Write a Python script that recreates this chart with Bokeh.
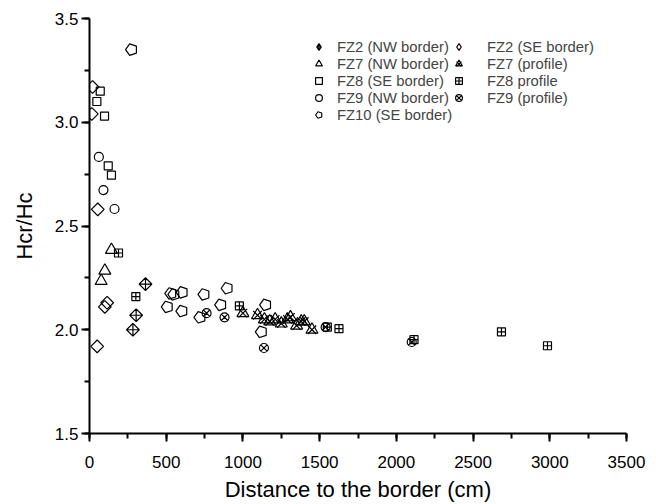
import numpy as np
from bokeh.plotting import figure
from bokeh.models import FixedTicker, Legend, LegendItem, NumeralTickFormatter
from bokeh.embed import file_html
from bokeh.resources import INLINE

# ---- data (distance in cm, Hcr/Hc) ----
fz2_nw_x = [283, 304, 365]
fz2_nw_y = [2.00, 2.07, 2.22]

fz2_se_x = [20, 15, 54, 115, 100, 50]
fz2_se_y = [3.17, 3.04, 2.58, 2.13, 2.11, 1.92]

fz7_nw_x = [143, 100, 76]
fz7_nw_y = [2.385, 2.285, 2.235]

fz7_pr_x = [1000, 1095, 1140, 1175, 1210, 1250, 1290, 1310, 1350, 1380, 1400, 1450]
fz7_pr_y = [2.08, 2.07, 2.05, 2.04, 2.05, 2.03, 2.05, 2.06, 2.02, 2.04, 2.04, 2.00]

fz8_se_x = [70, 48, 98, 122, 143]
fz8_se_y = [3.15, 3.10, 3.03, 2.79, 2.745]

fz8_pr_x = [189, 302, 977, 1550, 1626, 2115, 2685, 2985]
fz8_pr_y = [2.37, 2.16, 2.115, 2.013, 2.005, 1.952, 1.99, 1.923]

fz9_nw_x = [61, 91, 163]
fz9_nw_y = [2.833, 2.673, 2.582]

fz9_pr_x = [763, 880, 1137, 1539, 2100]
fz9_pr_y = [2.08, 2.06, 1.912, 2.013, 1.941]

fz10_se_x = [274, 507, 530, 550, 604, 602, 720, 746, 855, 897, 1148, 1120]
fz10_se_y = [3.35, 2.11, 2.175, 2.17, 2.18, 2.09, 2.06, 2.17, 2.12, 2.20, 2.12, 1.99]

x_ticks = [0, 500, 1000, 1500, 2000, 2500, 3000, 3500]
x_minor = [0, 250, 500, 750, 1000, 1250, 1500, 1750, 2000, 2250, 2500, 2750, 3000, 3250, 3500]
y_ticks = [1.5, 2.0, 2.5, 3.0, 3.5]
y_minor = [1.5, 1.75, 2.0, 2.25, 2.5, 2.75, 3.0, 3.25, 3.5]

FONT = "Liberation Sans"

p = figure(width=656, height=504, x_range=(0, 3500), y_range=(1.5, 3.5),
           output_backend="svg", toolbar_location=None,
           min_border_left=89, min_border_right=30, min_border_top=18, min_border_bottom=70,
           background_fill_color="white", border_fill_color="white")
p.outline_line_color = None
p.xgrid.visible = False
p.ygrid.visible = False

p.xaxis.ticker = FixedTicker(ticks=x_ticks, minor_ticks=x_minor)
p.yaxis.ticker = FixedTicker(ticks=y_ticks, minor_ticks=y_minor)
p.yaxis.formatter = NumeralTickFormatter(format="0.0")
p.xaxis.axis_label = "Distance to the border (cm)"
p.yaxis.axis_label = "Hcr/Hc"

for ax in (p.xaxis[0], p.yaxis[0]):
    ax.axis_line_width = 2
    ax.axis_line_color = "black"
    ax.major_tick_line_width = 2
    ax.minor_tick_line_width = 2
    ax.major_tick_line_color = "black"
    ax.minor_tick_line_color = "black"
    ax.major_tick_out = 8
    ax.major_tick_in = 0
    ax.minor_tick_out = 5
    ax.minor_tick_in = 0
    ax.major_label_text_font = FONT
    ax.major_label_text_font_size = "17px"
    ax.major_label_text_color = "black"
    ax.axis_label_text_font = FONT
    ax.axis_label_text_font_size = "22px"
    ax.axis_label_text_font_style = "normal"
    ax.axis_label_text_color = "black"

p.xaxis.major_label_standoff = 14
p.xaxis.axis_label_standoff = 6
p.yaxis.major_label_standoff = 3
p.yaxis.axis_label_standoff = 15

common = dict(fill_color=None, line_color="black", line_width=1.2)

r_fz2_nw = p.scatter(fz2_nw_x, fz2_nw_y, marker="square_x", size=9, angle=np.pi / 4, **common)
r_fz2_se = p.scatter(fz2_se_x, fz2_se_y, marker="square", size=9, angle=np.pi / 4, **common)
r_fz7_nw = p.scatter(fz7_nw_x, fz7_nw_y, marker="triangle", size=12, **common)
r_fz7_pt = p.scatter(fz7_pr_x, fz7_pr_y, marker="triangle", size=12, **common)
r_fz7_px = p.scatter(fz7_pr_x, fz7_pr_y, marker="x", size=12, **common)
r_fz8_se = p.scatter(fz8_se_x, fz8_se_y, marker="square", size=8, **common)
r_fz8_pr = p.scatter(fz8_pr_x, fz8_pr_y, marker="square_cross", size=8, **common)
r_fz9_nw = p.scatter(fz9_nw_x, fz9_nw_y, marker="circle", size=9, **common)
r_fz9_pr = p.scatter(fz9_pr_x, fz9_pr_y, marker="circle_x", size=9, **common)
r_fz10 = p.ngon(x=fz10_se_x, y=fz10_se_y, radius=6, radius_units="screen", n=5,
                angle=np.pi / 2, **common)

# legend-only glyphs (not drawn in the plot) so the legend shows diamonds
l_fz2_nw = p.scatter(x=[np.nan], y=[np.nan], marker="diamond_cross", size=9, **common)
l_fz2_se = p.scatter(x=[np.nan], y=[np.nan], marker="diamond", size=9, **common)

leg_style = dict(border_line_color=None, background_fill_alpha=0, padding=0, margin=0,
                 spacing=0, glyph_width=17, glyph_height=17, label_height=17,
                 label_text_font=FONT, label_text_font_size="14.8px")

leg1 = Legend(items=[
    LegendItem(label="FZ2 (NW border)", renderers=[l_fz2_nw]),
    LegendItem(label="FZ7 (NW border)", renderers=[r_fz7_nw]),
    LegendItem(label="FZ8 (SE border)", renderers=[r_fz8_se]),
    LegendItem(label="FZ9 (NW border)", renderers=[r_fz9_nw]),
    LegendItem(label="FZ10 (SE border)", renderers=[r_fz10]),
], location=(221, 310), label_standoff=10, **leg_style)

leg2 = Legend(items=[
    LegendItem(label="FZ2 (SE border)", renderers=[l_fz2_se]),
    LegendItem(label="FZ7 (profile)", renderers=[r_fz7_pt, r_fz7_px]),
    LegendItem(label="FZ8 profile", renderers=[r_fz8_pr]),
    LegendItem(label="FZ9 (profile)", renderers=[r_fz9_pr]),
], location=(361, 327), label_standoff=20, **leg_style)

p.add_layout(leg1)
p.add_layout(leg2)

open("out.html", "w").write(file_html(p, INLINE))
